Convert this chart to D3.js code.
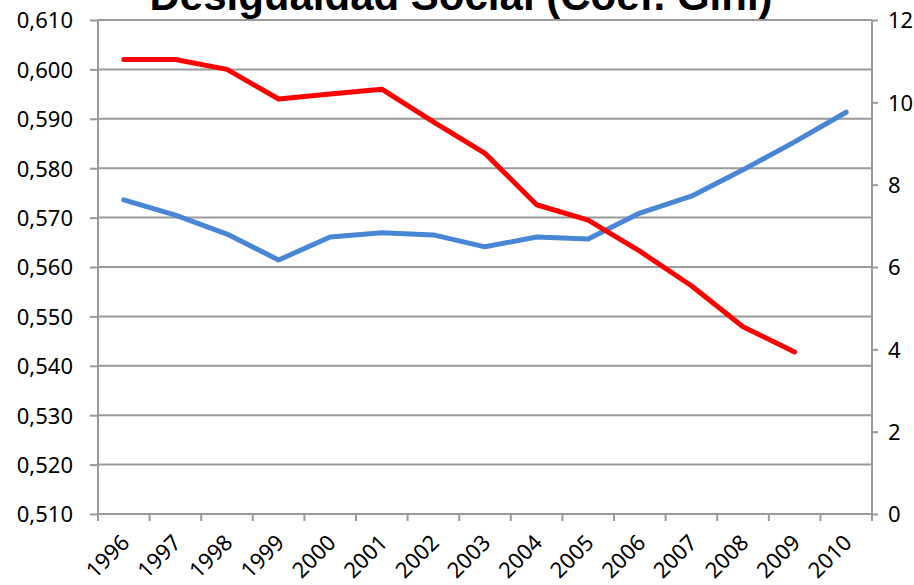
<!DOCTYPE html>
<html>
<head>
<meta charset="utf-8">
<script src="https://cdn.jsdelivr.net/npm/d3@7"></script>
<style>
    body { margin: 0; background: #fff; }
    #chart { width: 914px; height: 585px; }
    .axisLabel { font-family: "Noto Sans", "Open Sans", sans-serif; font-size: 22px; fill: #000; }
</style>
</head>
<body>
<div id="chart"></div>
<script>

// data
let years = ["1996", "1997", "1998", "1999", "2000", "2001", "2002", "2003", "2004", "2005", "2006", "2007", "2008", "2009", "2010"];
let gini = [0.602, 0.602, 0.600, 0.594, 0.595, 0.596, 0.5894, 0.583, 0.5726, 0.5695, 0.5632, 0.5562, 0.5479, 0.5428, null];
let rightSeries = [7.63, 7.26, 6.80, 6.17, 6.73, 6.83, 6.78, 6.49, 6.73, 6.68, 7.31, 7.72, 8.36, 9.04, 9.76];
let leftTicks = [0.510, 0.520, 0.530, 0.540, 0.550, 0.560, 0.570, 0.580, 0.590, 0.600, 0.610];
let rightTicks = [0, 2, 4, 6, 8, 10, 12];
let chartTitle = "Desigualdad Social (Coef. Gini)";


class GiniVis {

    constructor(parentElement) {
        this.parentElement = parentElement;
        this.initVis();
    }

    initVis() {
        let vis = this;
        vis.margin = {top: 20, right: 42, bottom: 71, left: 98};
        vis.width = 914 - vis.margin.left - vis.margin.right;
        vis.height = 585 - vis.margin.top - vis.margin.bottom;

        vis.svg = d3.select("#" + vis.parentElement).append("svg")
            .attr("width", 914)
            .attr("height", 585)
            .append("g")
            .attr("transform", `translate(${vis.margin.left}, ${vis.margin.top})`);

        // title, cut at the top like the original
        vis.svg.append("text")
            .text(chartTitle)
            .attr("x", vis.width / 2 - 24)
            .attr("y", -10)
            .attr("text-anchor", "middle")
            .style("font-family", "'Liberation Sans', Arial, sans-serif")
            .style("font-weight", "bold")
            .style("font-size", "42px");

        vis.xScale = d3.scaleBand()
            .domain(years)
            .range([0, vis.width])
            .padding(0);

        vis.yLeft = d3.scaleLinear()
            .domain([0.510, 0.610])
            .range([vis.height, 0]);

        vis.yRight = d3.scaleLinear()
            .domain([0, 12])
            .range([vis.height, 0]);

        vis.wrangleData();
    }

    wrangleData() {
        let vis = this;
        vis.giniData = years.map((y, i) => ({year: y, value: gini[i]})).filter(d => d.value !== null);
        vis.rightData = years.map((y, i) => ({year: y, value: rightSeries[i]}));
        vis.updateVis();
    }

    updateVis() {
        let vis = this;
        let fmt = d => d3.format(".3f")(d).replace(".", ",");
        let cx = d => vis.xScale(d.year) + vis.xScale.bandwidth() / 2;

        // gridlines
        vis.svg.append("g")
            .selectAll("line")
            .data(leftTicks)
            .enter()
            .append("line")
            .attr("x1", 0)
            .attr("x2", vis.width)
            .attr("y1", d => vis.yLeft(d))
            .attr("y2", d => vis.yLeft(d))
            .attr("stroke", "#9a9a9a")
            .attr("stroke-width", 2);

        // left axis
        let yAxisLeft = d3.axisLeft(vis.yLeft)
            .tickValues(leftTicks)
            .tickFormat(fmt)
            .tickSize(8);

        let gl = vis.svg.append("g").attr("class", "yAxis").call(yAxisLeft);
        gl.select(".domain").attr("stroke", "#9a9a9a").attr("stroke-width", 2).attr("d", `M0,0V${vis.height}`);
        gl.selectAll(".tick line").attr("stroke", "#9a9a9a").attr("stroke-width", 2);
        gl.selectAll(".tick text").attr("class", "axisLabel").attr("dy", "0.36em").attr("x", -25);

        // right axis
        let yAxisRight = d3.axisRight(vis.yRight)
            .tickValues(rightTicks)
            .tickSize(6);

        let gr = vis.svg.append("g").attr("class", "yAxis2")
            .attr("transform", `translate(${vis.width}, 0)`)
            .call(yAxisRight);
        gr.select(".domain").attr("stroke", "#9a9a9a").attr("stroke-width", 2).attr("d", `M0,0V${vis.height}`);
        gr.selectAll(".tick line").attr("stroke", "#9a9a9a").attr("stroke-width", 2);
        gr.selectAll(".tick text").attr("class", "axisLabel").attr("dy", "0.36em").attr("x", 16);

        // bottom axis
        let xAxis = d3.axisBottom(vis.xScale).tickSize(0).tickPadding(0);
        let gx = vis.svg.append("g").attr("class", "xAxis")
            .attr("transform", `translate(0, ${vis.height})`)
            .call(xAxis);
        gx.select(".domain").attr("stroke", "#9a9a9a").attr("stroke-width", 2).attr("d", `M0,0H${vis.width}`);
        gx.selectAll(".tick text")
            .attr("class", "axisLabel")
            .attr("text-anchor", "end")
            .attr("dy", 0)
            .attr("transform", "translate(7, 30) rotate(-45)");

        // ticks between categories
        let bounds = years.map(y => vis.xScale(y)).concat([vis.width]);
        gx.append("g")
            .selectAll("line")
            .data(bounds)
            .enter()
            .append("line")
            .attr("x1", d => d)
            .attr("x2", d => d)
            .attr("y1", 0)
            .attr("y2", 7)
            .attr("stroke", "#9a9a9a")
            .attr("stroke-width", 2);

        // lines
        let lineLeft = d3.line().x(cx).y(d => vis.yLeft(d.value));
        let lineRight = d3.line().x(cx).y(d => vis.yRight(d.value));

        vis.svg.append("path")
            .datum(vis.rightData)
            .attr("d", lineRight)
            .attr("fill", "none")
            .attr("stroke", "#4a86d6")
            .attr("stroke-width", 5)
            .attr("stroke-linecap", "round")
            .attr("stroke-linejoin", "round");

        vis.svg.append("path")
            .datum(vis.giniData)
            .attr("d", lineLeft)
            .attr("fill", "none")
            .attr("stroke", "#ff0000")
            .attr("stroke-width", 5)
            .attr("stroke-linecap", "round")
            .attr("stroke-linejoin", "round");
    }
}

let myGiniVis = new GiniVis("chart");

</script>
</body>
</html>
